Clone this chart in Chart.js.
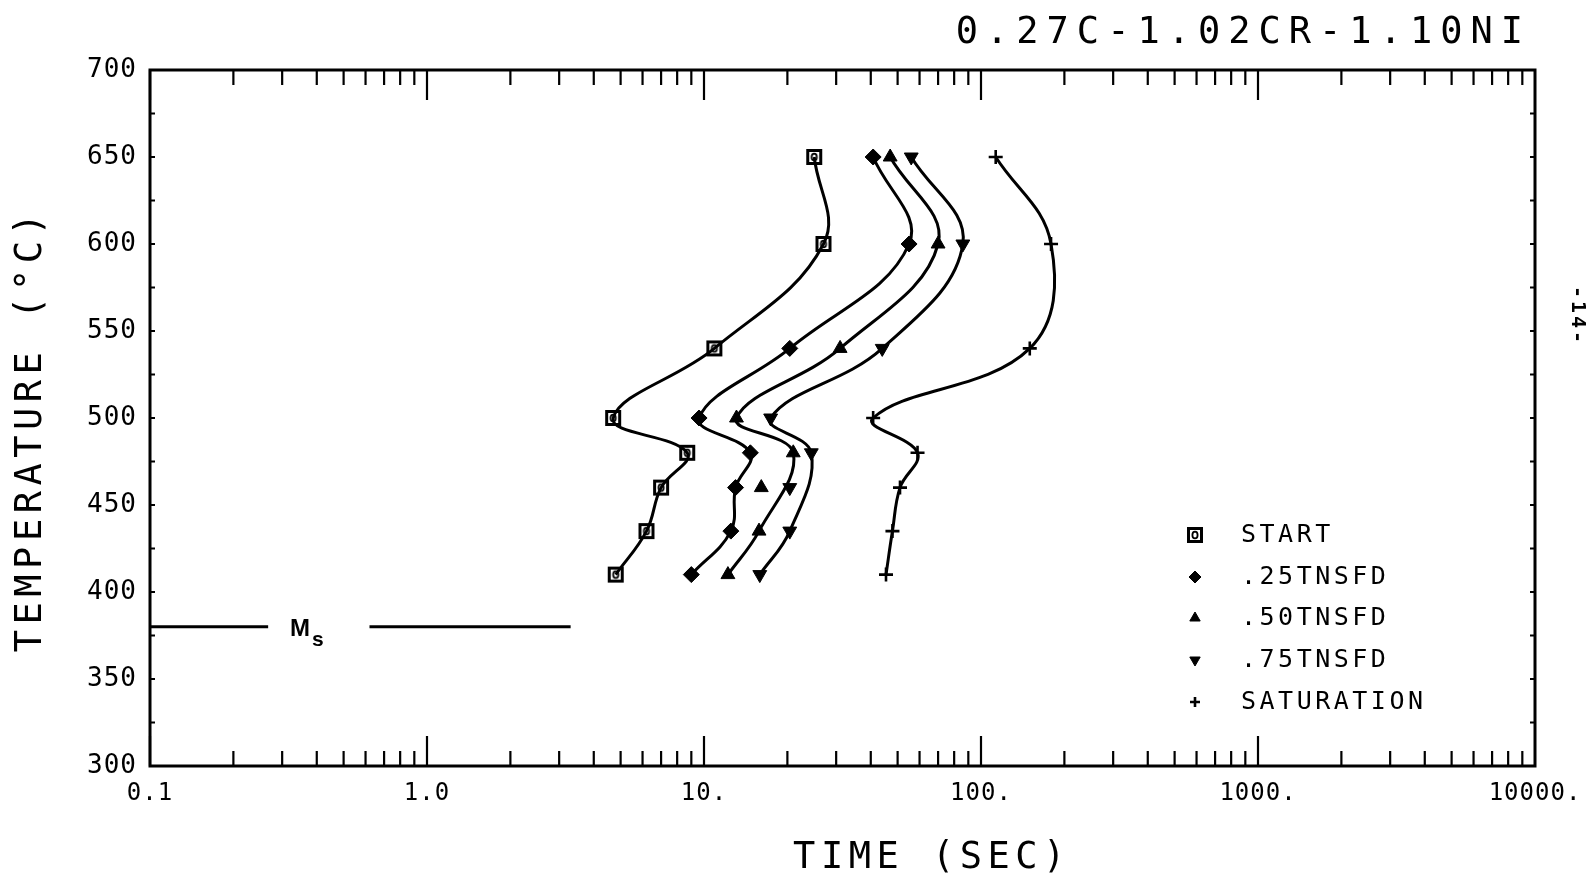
<!DOCTYPE html>
<html>
<head>
<meta charset="utf-8">
<script src="https://cdn.jsdelivr.net/npm/chart.js@4/dist/chart.umd.min.js"></script>
<style>
  html, body { margin: 0; padding: 0; background: #fff; }
  #wrap { width: 1592px; height: 878px; }
</style>
</head>
<body>
<div id="wrap"><canvas id="ttt"></canvas></div>
<script>
// temperatures (deg C) of the isothermal holds
const temps = [650, 600, 540, 500, 480, 460, 435, 410];
const tempsNo460 = [650, 600, 540, 500, 480, 435, 410];

// times (sec) read for each curve
const startTimes = [25, 27, 10.9, 4.7, 8.7, 7.0, 6.2, 4.8];
const t25Times = [40.8, 55, 20.4, 9.6, 14.7, 13.0, 12.5, 9.0];
const t50Times = [47, 70, 31, 13.1, 21, 15.8, 12.2];
const t75Times = [56, 86, 44, 17.4, 24.4, 20.4, 15.9];
const satTimes = [113, 179, 150, 40.8, 59, 51, 47.9, 45.4];

// 460 deg points that sit off the drawn .50 / .75 curves
const extraTemp = [460];
const t50Extra = [16.1];
const t75Extra = [20.4];

// Ms line
const msTemp = 380;
const msLeft = [0.1, 0.267];
const msRight = [0.62, 3.3];

const xTicks = [0.1, 1, 10, 100, 1000, 10000];
const xTickLabels = ['0.1', '1.0', '10.', '100.', '1000.', '10000.'];
const legendLabels = ['START', '.25TNSFD', '.50TNSFD', '.75TNSFD', 'SATURATION'];

const MONO = "'DejaVu Sans Mono', monospace";

// square-with-circle symbol used for START
function startMarker() {
  const c = document.createElement('canvas');
  c.width = 18; c.height = 18;
  const g = c.getContext('2d');
  g.strokeStyle = '#000';
  g.lineWidth = 3;
  g.strokeRect(2.5, 2.5, 13, 13);
  g.lineWidth = 1.8;
  g.beginPath(); g.ellipse(9, 9, 2.6, 3.4, 0, 0, Math.PI * 2); g.stroke();
  return c;
}

const styles = [
  { pointStyle: startMarker(), radius: 9, rotation: 0, borderWidth: 0 },
  { pointStyle: 'rectRot', radius: 8, rotation: 0, borderWidth: 1 },
  { pointStyle: 'triangle', radius: 8, rotation: 0, borderWidth: 1 },
  { pointStyle: 'triangle', radius: 8, rotation: 180, borderWidth: 1 },
  { pointStyle: 'cross', radius: 7, rotation: 0, borderWidth: 2.6 }
];

function pts(xs, ys) {
  return ys.map((t, i) => ({ x: xs[i], y: t }));
}

function curve(label, data, st) {
  return {
    label: label,
    data: data,
    showLine: true,
    tension: 0.4,
    borderColor: '#000',
    borderWidth: 3,
    pointStyle: st.pointStyle,
    pointRadius: st.radius,
    pointRotation: st.rotation,
    pointBackgroundColor: '#000',
    pointBorderColor: '#000',
    pointBorderWidth: st.borderWidth
  };
}

function marks(label, data, st) {
  const d = curve(label, data, st);
  d.showLine = false;
  return d;
}

function msLine(xs) {
  return {
    label: 'Ms',
    data: xs.map(v => ({ x: v, y: msTemp })),
    showLine: true,
    borderColor: '#000',
    borderWidth: 3,
    pointRadius: 0
  };
}

const datasets = [
  curve(legendLabels[0], pts(startTimes, temps), styles[0]),
  curve(legendLabels[1], pts(t25Times, temps), styles[1]),
  curve(legendLabels[2], pts(t50Times, tempsNo460), styles[2]),
  curve(legendLabels[3], pts(t75Times, tempsNo460), styles[3]),
  curve(legendLabels[4], pts(satTimes, temps), styles[4]),
  marks(legendLabels[2], pts(t50Extra, extraTemp), styles[2]),
  marks(legendLabels[3], pts(t75Extra, extraTemp), styles[3]),
  msLine(msLeft),
  msLine(msRight)
];

function spacedText(ctx, str, x, y, font, spacing, align) {
  ctx.save();
  ctx.font = font;
  ctx.letterSpacing = spacing + 'px';
  ctx.textAlign = align || 'left';
  ctx.textBaseline = 'middle';
  ctx.fillStyle = '#000';
  ctx.fillText(str, x, y);
  ctx.restore();
}

const decor = {
  id: 'decor',
  beforeDraw(chart) {
    chart.ctx.letterSpacing = '1px';
  },
  afterDraw(chart) {
    const ctx = chart.ctx;
    const a = chart.chartArea;
    const xs = chart.scales.x, ys = chart.scales.y;
    ctx.save();
    ctx.letterSpacing = '0px';
    ctx.strokeStyle = '#000';
    ctx.lineWidth = 3;
    ctx.strokeRect(a.left, a.top, a.right - a.left, a.bottom - a.top);

    // log ticks on top and bottom, pointing inward
    ctx.lineWidth = 2.2;
    ctx.beginPath();
    for (let d = -1; d <= 3; d++) {
      for (let m = 1; m <= 9; m++) {
        const v = m * Math.pow(10, d);
        const px = xs.getPixelForValue(v);
        const len = m === 1 ? 30 : 15;
        ctx.moveTo(px, a.bottom); ctx.lineTo(px, a.bottom - len);
        ctx.moveTo(px, a.top); ctx.lineTo(px, a.top + len);
      }
    }
    // small temperature ticks every 25 deg
    for (let t = 325; t < 700; t += 25) {
      const py = ys.getPixelForValue(t);
      ctx.moveTo(a.left, py); ctx.lineTo(a.left + 5, py);
      ctx.moveTo(a.right, py); ctx.lineTo(a.right - 5, py);
    }
    ctx.stroke();
    ctx.restore();

    // titles
    spacedText(ctx, '0.27C-1.02CR-1.10NI', a.right - 4, 33, '37px ' + MONO, 8, 'right');
    spacedText(ctx, 'TIME (SEC)', 932, 858, '37px ' + MONO, 5.5, 'center');
    ctx.save();
    ctx.translate(31, 430);
    ctx.rotate(-Math.PI / 2);
    spacedText(ctx, 'TEMPERATURE (\u00B0C)', 0, 0, '37px ' + MONO, 5.5, 'center');
    ctx.restore();
    ctx.save();
    ctx.translate(1577, 316);
    ctx.rotate(Math.PI / 2);
    spacedText(ctx, '-14-', 0, 0, 'bold 20px ' + MONO, 3, 'center');
    ctx.restore();

    // Ms label
    const my = ys.getPixelForValue(msTemp);
    const mx = xs.getPixelForValue(0.32);
    ctx.save();
    ctx.fillStyle = '#000';
    ctx.textBaseline = 'alphabetic';
    ctx.font = "bold 24px 'Liberation Sans', Arial, sans-serif";
    ctx.fillText('M', mx, my + 9);
    const mw = ctx.measureText('M').width;
    ctx.font = "bold 21px 'Liberation Sans', Arial, sans-serif";
    ctx.fillText('s', mx + mw + 1, my + 19);
    ctx.restore();

    // legend
    const lx = 1195, tx = 1241;
    const rowY = [535, 577, 618, 660, 702];
    ctx.save();
    ctx.fillStyle = '#000';
    ctx.strokeStyle = '#000';
    legendLabels.forEach((lab, i) => {
      const st = styles[i];
      ctx.lineWidth = st.borderWidth;
      if (Chart.helpers && Chart.helpers.drawPoint) {
        Chart.helpers.drawPoint(ctx, {
          pointStyle: st.pointStyle,
          radius: i === 0 ? 9 : st.radius - 2,
          rotation: st.rotation,
          borderWidth: st.borderWidth
        }, lx, rowY[i]);
      }
      spacedText(ctx, lab, tx, rowY[i], '25px ' + MONO, 3.5, 'left');
    });
    ctx.restore();
  }
};

new Chart(document.getElementById('ttt'), {
  type: 'scatter',
  data: { datasets: datasets },
  plugins: [decor],
  options: {
    responsive: true,
    maintainAspectRatio: false,
    animation: false,
    layout: { padding: { top: 70, right: 57, left: 0, bottom: 0 } },
    plugins: {
      legend: { display: false },
      tooltip: { enabled: false }
    },
    scales: {
      x: {
        type: 'logarithmic',
        position: 'bottom',
        min: 0.1,
        max: 10000,
        grid: { display: false, drawTicks: false },
        border: { display: false },
        afterBuildTicks: s => { s.ticks = xTicks.map(v => ({ value: v })); },
        afterFit: s => { s.height = 112; s.paddingLeft = 0; s.paddingRight = 0; },
        ticks: {
          autoSkip: false,
          maxRotation: 0,
          padding: 13,
          color: '#000',
          font: { family: MONO, size: 24 },
          callback: (v, i) => xTickLabels[i]
        }
      },
      y: {
        type: 'linear',
        min: 300,
        max: 700,
        grid: { display: false, drawTicks: false },
        border: { display: false },
        afterFit: s => { s.width = 150; s.paddingTop = 0; s.paddingBottom = 0; },
        ticks: {
          stepSize: 50,
          padding: 13,
          color: '#000',
          font: { family: MONO, size: 26 }
        }
      }
    }
  }
});
</script>
</body>
</html>
